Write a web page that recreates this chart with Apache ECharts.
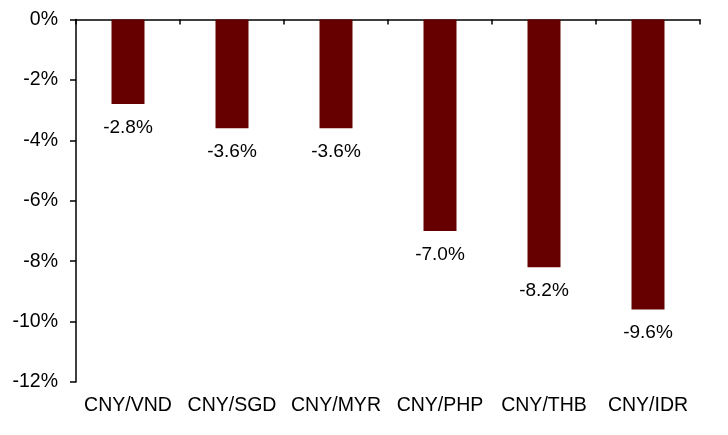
<!DOCTYPE html>
<html><head><meta charset="utf-8">
<script src="https://cdn.jsdelivr.net/npm/echarts@6/dist/echarts.min.js"></script>
<style>html,body{margin:0;padding:0;background:#fff}#c{width:728px;height:435px}</style>
</head><body><div id="c"></div>
<script>
const categories = ['CNY/VND','CNY/SGD','CNY/MYR','CNY/PHP','CNY/THB','CNY/IDR'];
const values = [-2.8, -3.6, -3.6, -7.0, -8.2, -9.6];
const chart = echarts.init(document.getElementById('c'));
const font = 'Liberation Sans, Arial, sans-serif';
chart.setOption({
  animation: false,
  grid: {left: 76, right: 28, top: 19.5, bottom: 53},
  xAxis: [
    {type: 'category', data: categories, position: 'bottom',
     axisLine: {show: false}, axisTick: {show: false},
     axisLabel: {color: '#000', fontSize: 19.5, fontFamily: font, margin: 14, interval: 0}},
    {type: 'category', data: categories, position: 'top',
     axisLine: {show: true, lineStyle: {color: '#000', width: 1.5}},
     axisTick: {show: true, inside: true, length: 5, lineStyle: {color: '#000', width: 1.5}},
     axisLabel: {show: false}}
  ],
  yAxis: {type: 'value', min: -12, max: 0, interval: 2,
    axisLine: {show: true, lineStyle: {color: '#000', width: 1.5}},
    axisTick: {show: true, length: 6, lineStyle: {color: '#000', width: 1.5}},
    splitLine: {show: false},
    axisLabel: {color: '#000', fontSize: 19.5, fontFamily: font, margin: 18,
      formatter: v => v + '%'}},
  series: [{type: 'bar', data: values, xAxisIndex: 0, barWidth: 33,
    itemStyle: {color: '#660000'},
    label: {show: true, position: 'bottom', distance: 14, color: '#000', fontSize: 19, fontFamily: font,
      formatter: p => p.value.toFixed(1) + '%'}}]
});
</script></body></html>
